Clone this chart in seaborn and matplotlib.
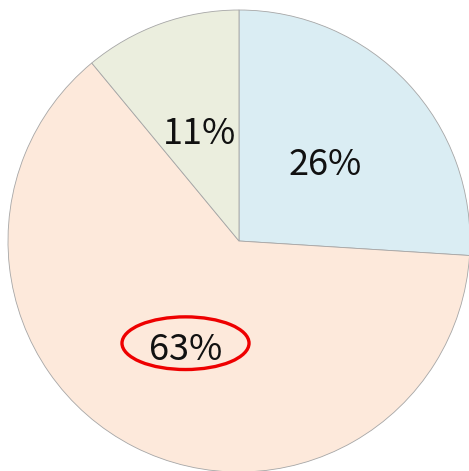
import seaborn as sns
import matplotlib.pyplot as plt
from matplotlib.patches import Ellipse

sns.set_theme(style="white")
plt.rcParams['font.family'] = ['Noto Sans CJK KR', 'DejaVu Sans']

# slice values (percent), clockwise from 12 o'clock
labels = ['A', 'B', 'C']
values = [26, 63, 11]
colors = ['#daedf3', '#fde9db', '#ebeede']

fig = plt.figure(figsize=(4.69, 4.71), dpi=100)
ax = fig.add_axes([0, 0, 1, 1])

wedges, texts, autotexts = ax.pie(
    values, colors=colors, startangle=90, counterclock=False,
    autopct='%.0f%%', pctdistance=0.51,
    wedgeprops=dict(edgecolor='#a6a6a6', linewidth=0.6),
    textprops=dict(fontsize=26, color='#111111', fontweight='light'),
)
for t in autotexts:
    x, y = t.get_position()
    t.set_position((x, y - 0.018))

# highlight the biggest slice label
big = autotexts[values.index(max(values))]
bx, by = big.get_position()
ax.add_patch(Ellipse((bx, by + 0.03), 0.55, 0.228, fill=False,
                     edgecolor='#ee0000', linewidth=2.4))

ax.set_aspect('auto')
ax.set_xlim(-1.0346, 0.9957)
ax.set_ylim(-0.9957, 1.0433)
ax.axis('off')

fig.savefig('out.png', dpi=100)
